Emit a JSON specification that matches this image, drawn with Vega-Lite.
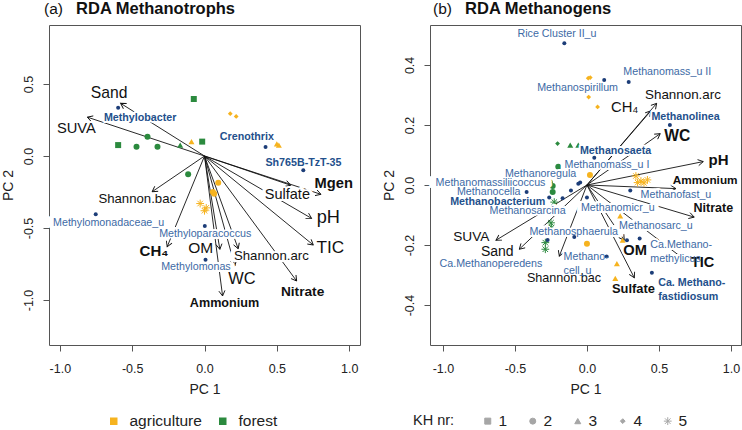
{
"$schema": "https://vega.github.io/schema/vega-lite/v6.json",
"background": "white",
"padding": {"left": 1, "top": 0, "right": 0, "bottom": 0},
"spacing": 21,
"datasets": {
"L_env": [
{"name":"Sand","x":-0.58,"y":0.366},{"name":"SUVA","x":-0.81,"y":0.27},{"name":"Shannon.bac","x":-0.362,"y":-0.248},{"name":"CH4","x":-0.258,"y":-0.63},{"name":"OM","x":0.106,"y":-0.648},{"name":"Ammonium","x":0.125,"y":-0.972},{"name":"WC","x":0.21,"y":-0.764},{"name":"Shannon.arc","x":0.233,"y":-0.644},{"name":"Nitrate","x":0.637,"y":-0.868},{"name":"TIC","x":0.752,"y":-0.618},{"name":"pH","x":0.74,"y":-0.433},{"name":"Sulfate","x":0.596,"y":-0.203},{"name":"Mgen","x":0.805,"y":-0.266}],
"L_envlab": [
{"label":"Sand","x":-0.66,"y":0.44,"sig":false,"imp":4.7},{"label":"SUVA","x":-0.886,"y":0.19,"sig":false,"imp":3.7},{"label":"Shannon.bac","x":-0.465,"y":-0.301,"sig":false,"imp":2.2},{"label":"CH₄","x":-0.349,"y":-0.66,"sig":true,"imp":4},{"label":"OM","x":-0.026,"y":-0.641,"sig":false,"imp":4.5},{"label":"Ammonium","x":0.138,"y":-1.023,"sig":true,"imp":1.6},{"label":"WC","x":0.258,"y":-0.856,"sig":false,"imp":5.4},{"label":"Shannon.arc","x":0.462,"y":-0.694,"sig":false,"imp":2.2},{"label":"Nitrate","x":0.678,"y":-0.942,"sig":true,"imp":2.7},{"label":"TIC","x":0.87,"y":-0.637,"sig":false,"imp":6.2},{"label":"pH","x":0.856,"y":-0.433,"sig":false,"imp":7.2},{"label":"Sulfate","x":0.573,"y":-0.27,"sig":false,"imp":3.5},{"label":"Mgen","x":0.893,"y":-0.197,"sig":true,"imp":3.7}],
"L_spp": [
{"name":"Methylobacter","x":-0.597,"y":0.336},{"name":"Crenothrix","x":0.422,"y":0.0625},{"name":"Sh765B-TzT-35","x":0.683,"y":-0.099},{"name":"Methylomonadaceae_u","x":-0.752,"y":-0.405},{"name":"Methyloparacoccus","x":0.002,"y":-0.486},{"name":"Methylomonas","x":0.007,"y":-0.72}],
"L_spplab": [
{"label":"Methylobacter","x":-0.445,"y":0.266,"sig":true},{"label":"Crenothrix","x":0.293,"y":0.134,"sig":true},{"label":"Sh765B-TzT-35","x":0.684,"y":-0.051,"sig":true},{"label":"Methylomonadaceae_u","x":-0.663,"y":-0.463,"sig":false},{"label":"Methyloparacoccus","x":0.005,"y":-0.539,"sig":false},{"label":"Methylomonas","x":-0.059,"y":-0.771,"sig":false}],
"L_sites": [
{"land":"forest","kh":"1","x":-0.074,"y":0.396},{"land":"forest","kh":"1","x":-0.597,"y":0.076},{"land":"forest","kh":"1","x":-0.016,"y":0.1},{"land":"forest","kh":"2","x":-0.394,"y":0.134},{"land":"forest","kh":"2","x":-0.47,"y":0.065},{"land":"forest","kh":"2","x":-0.325,"y":0.065},{"land":"forest","kh":"2","x":-0.113,"y":-0.127},{"land":"forest","kh":"3","x":-0.168,"y":0.076},{"land":"agriculture","kh":"3","x":-0.09,"y":0.1},{"land":"agriculture","kh":"3","x":0.5,"y":0.085},{"land":"agriculture","kh":"3","x":0.514,"y":0.076},{"land":"agriculture","kh":"4","x":0.178,"y":0.294},{"land":"agriculture","kh":"4","x":0.219,"y":0.275},{"land":"agriculture","kh":"2","x":0.095,"y":-0.185},{"land":"agriculture","kh":"2","x":0.067,"y":-0.262},{"land":"agriculture","kh":"2","x":0.058,"y":-0.25},{"land":"agriculture","kh":"5","x":-0.03,"y":-0.33},{"land":"agriculture","kh":"5","x":0.0,"y":-0.38},{"land":"agriculture","kh":"5","x":0.012,"y":-0.36}],
"R_env": [
{"name":"Shannon.arc","x":0.484,"y":0.272},{"name":"CH4","x":0.444,"y":0.247},{"name":"WC","x":0.509,"y":0.171},{"name":"pH","x":0.808,"y":0.078},{"name":"Ammonium","x":0.618,"y":-0.012},{"name":"Nitrate","x":0.745,"y":-0.107},{"name":"TIC","x":0.676,"y":-0.248},{"name":"OM","x":0.259,"y":-0.184},{"name":"Sulfate","x":0.329,"y":-0.309},{"name":"Shannon.bac","x":-0.192,"y":-0.237},{"name":"Sand","x":-0.47,"y":-0.214},{"name":"SUVA","x":-0.632,"y":-0.184}],
"R_envlab": [
{"label":"Shannon.arc","x":0.667,"y":0.3,"sig":false,"imp":2.4},{"label":"CH₄","x":0.262,"y":0.256,"sig":false,"imp":3.8},{"label":"WC","x":0.627,"y":0.163,"sig":true,"imp":4.6},{"label":"pH","x":0.914,"y":0.082,"sig":true,"imp":4},{"label":"Ammonium","x":0.821,"y":0.017,"sig":true,"imp":0.8},{"label":"Nitrate","x":0.878,"y":-0.078,"sig":true,"imp":1.5},{"label":"TIC","x":0.803,"y":-0.259,"sig":true,"imp":3.5},{"label":"OM","x":0.335,"y":-0.22,"sig":true,"imp":3.7},{"label":"Sulfate","x":0.323,"y":-0.348,"sig":true,"imp":1.9},{"label":"Shannon.bac","x":-0.159,"y":-0.311,"sig":false,"imp":1.6},{"label":"Sand","x":-0.623,"y":-0.223,"sig":false,"imp":3},{"label":"SUVA","x":-0.803,"y":-0.173,"sig":false,"imp":2.7}],
"R_spp": [
{"name":"Rice Cluster II_u","x":-0.157,"y":0.472},{"name":"Methanomass_u II","x":0.29,"y":0.343},{"name":"Methanospirillum","x":0.12,"y":0.35},{"name":"Methanolinea","x":0.576,"y":0.2},{"name":"Methanosaeta","x":0.051,"y":0.091},{"name":"Methanomass_u I","x":-0.047,"y":0.008},{"name":"Methanoregula","x":-0.06,"y":0.004},{"name":"Methanomassiliicoccus","x":-0.111,"y":-0.018},{"name":"Methanocella","x":-0.419,"y":-0.023},{"name":"Methanobacterium","x":-0.262,"y":-0.042},{"name":"Methanosarcina","x":-0.169,"y":-0.044},{"name":"Methanofast_u","x":0.301,"y":-0.018},{"name":"Methanomicr_u","x":0.0,"y":-0.042},{"name":"Methanosarc_u","x":0.278,"y":-0.184},{"name":"Ca.Methanomethylicus","x":0.366,"y":-0.178},{"name":"Methanosphaerula","x":-0.088,"y":-0.173},{"name":"Methanocell_u","x":0.137,"y":-0.238},{"name":"Ca.Methanoperedens","x":-0.273,"y":-0.183},{"name":"Ca.Methanofastidiosum","x":0.451,"y":-0.292}],
"R_spplab": [
{"label":"Rice Cluster II_u","x":-0.208,"y":0.502,"sig":false},{"label":"Methanomass_u II","x":0.558,"y":0.378,"sig":false},{"label":"Methanospirillum","x":-0.065,"y":0.322,"sig":false},{"label":"Methanolinea","x":0.685,"y":0.227,"sig":true},{"label":"Methanosaeta","x":0.199,"y":0.113,"sig":true},{"label":"Methanomass_u I","x":0.139,"y":0.066,"sig":false},{"label":"Methanoregula","x":-0.322,"y":0.038,"sig":false},{"label":"Methanomassiliicoccus","x":-0.67,"y":0.008,"sig":false},{"label":"Methanocella","x":-0.682,"y":-0.022,"sig":false},{"label":"Methanobacterium","x":-0.62,"y":-0.057,"sig":true},{"label":"Methanosarcina","x":-0.412,"y":-0.087,"sig":false},{"label":"Methanofast_u","x":0.618,"y":-0.034,"sig":false},{"label":"Methanomicr_u","x":0.214,"y":-0.076,"sig":false},{"label":"Methanosarc_u","x":0.479,"y":-0.137,"sig":false},{"label":"Ca.Methano-\nmethylicus","x":0.44,"y":-0.2,"sig":false},{"label":"Methanosphaerula","x":-0.092,"y":-0.156,"sig":false},{"label":"Methano-\ncell_u","x":-0.162,"y":-0.241,"sig":false},{"label":"Ca.Methanoperedens","x":-0.667,"y":-0.262,"sig":false},{"label":"Ca. Methano-\nfastidiosum","x":0.495,"y":-0.328,"sig":true}],
"R_sites": [
{"land":"forest","kh":"4","x":-0.204,"y":0.138},{"land":"forest","kh":"3","x":-0.116,"y":0.133},{"land":"forest","kh":"3","x":-0.06,"y":0.133},{"land":"forest","kh":"2","x":-0.199,"y":0.061},{"land":"forest","kh":"2","x":-0.257,"y":0.008},{"land":"forest","kh":"2","x":-0.238,"y":-0.003},{"land":"forest","kh":"2","x":-0.238,"y":-0.023},{"land":"forest","kh":"5","x":-0.227,"y":-0.057},{"land":"forest","kh":"5","x":-0.25,"y":-0.126},{"land":"forest","kh":"5","x":-0.245,"y":-0.142},{"land":"forest","kh":"5","x":-0.289,"y":-0.192},{"land":"forest","kh":"5","x":-0.289,"y":-0.214},{"land":"agriculture","kh":"4","x":0.009,"y":0.356},{"land":"agriculture","kh":"4","x":0.023,"y":0.358},{"land":"agriculture","kh":"4","x":0.012,"y":0.293},{"land":"agriculture","kh":"4","x":0.074,"y":0.26},{"land":"agriculture","kh":"2","x":0.021,"y":0.033},{"land":"agriculture","kh":"2","x":0.0,"y":-0.196},{"land":"agriculture","kh":"5","x":0.34,"y":0.03},{"land":"agriculture","kh":"5","x":0.375,"y":0.013},{"land":"agriculture","kh":"5","x":0.42,"y":0.017},{"land":"agriculture","kh":"5","x":0.352,"y":0.008},{"land":"agriculture","kh":"5","x":0.396,"y":0.007},{"land":"agriculture","kh":"3","x":0.231,"y":-0.103},{"land":"agriculture","kh":"3","x":0.248,"y":-0.184},{"land":"agriculture","kh":"3","x":0.208,"y":-0.262},{"land":"agriculture","kh":"3","x":0.197,"y":-0.311}]
},
"hconcat": [
{
"width": 311, "height": 320,
"title": {"text": "(a)", "subtitle": "\u200b\u00a0\u00a0\u00a0\u00a0\u00a0\u00a0\u00a0RDA Methanotrophs", "anchor": "start", "frame": "group", "dx": -5, "offset": 7, "fontSize": 15.5, "fontWeight": "normal", "subtitleFontSize": 16.5, "subtitleFontWeight": "bold", "subtitleColor": "#111", "subtitlePadding": -16, "subtitleFont": "Liberation Sans"},
"encoding": {
"x": {"field": "x", "type": "quantitative", "title": "PC 1", "scale": {"domain": [-1.075, 1.075], "nice": false, "zero": false}, "axis": {"values": [-1, -0.5, 0, 0.5, 1], "format": ".1f", "labelExpr": "replace(datum.label, '\u2212', '-')"}},
"y": {"field": "y", "type": "quantitative", "title": "PC 2", "scale": {"domain": [-1.3125, 0.91], "nice": false, "zero": false}, "axis": {"values": [-1, -0.5, 0, 0.5], "format": ".1f", "labelExpr": "replace(datum.label, '\u2212', '-')"}}
},
"layer": [
{"data": {"values": [{}]}, "mark": {"type": "rule", "stroke": "#888888", "strokeDash": [1.5, 2.5], "strokeWidth": 1}, "encoding": {"x": {"datum": 0}, "y": {"datum": -1.3125}, "y2": {"datum": 0.91}}},
{"data": {"values": [{}]}, "mark": {"type": "rule", "stroke": "#888888", "strokeDash": [1.5, 2.5], "strokeWidth": 1}, "encoding": {"y": {"datum": 0}, "x": {"datum": -1.075}, "x2": {"datum": 1.075}}},
{"data": {"name": "L_env"}, "mark": {"type": "rule", "stroke": "#111111", "strokeWidth": 0.9}, "encoding": {"x2": {"datum": 0}, "y2": {"datum": 0}}},
{"data": {"name": "L_env"}, "transform": [{"calculate": "atan2(-datum.y*144, datum.x*144.7)*180/PI", "as": "ang"}], "mark": {"type": "point", "shape": "M-1,-0.58L0,0L-1,0.58", "filled": false, "color": "#111111", "strokeWidth": 0.9, "size": 110, "opacity": 1}, "encoding": {"angle": {"field": "ang", "type": "quantitative", "scale": null}}},
{"data": {"name": "L_sites"}, "transform": [{"filter": "datum.kh != '5'"}], "mark": {"type": "point", "filled": true, "size": 36, "opacity": 1},
 "encoding": {
  "color": {"field": "land", "type": "nominal", "scale": {"domain": ["agriculture", "forest"], "range": ["#F6B31F", "#2B8A3E"]}, "legend": {"orient": "none", "legendX": 57, "legendY": 388, "direction": "horizontal", "title": null, "symbolType": "square", "symbolSize": 36, "labelFontSize": 15.5, "columnPadding": 13, "labelOffset": 8}},
  "shape": {"field": "kh", "type": "nominal", "scale": {"domain": ["1","2","3","4","5"], "range": ["square","circle","triangle-up","M0,-0.8L0.8,0L0,0.8L-0.8,0Z","M-1.3,0L1.3,0M0,-1.3L0,1.3M-0.92,-0.92L0.92,0.92M-0.92,0.92L0.92,-0.92"]}, "legend": {"orient": "none", "legendX": 364, "legendY": 388, "direction": "horizontal", "title": "KH nr:", "titleOrient": "left", "titleFontWeight": "normal", "titleFontSize": 14.5, "titlePadding": 25, "symbolSize": 36, "labelFontSize": 15.5, "columnPadding": 17, "labelOffset": 3, "symbolFillColor": "#a6a6a6", "symbolStrokeColor": "#a6a6a6", "symbolStrokeWidth": 1}}
 }},
{"data": {"name": "L_sites"}, "transform": [{"filter": "datum.kh == '5'"}], "mark": {"type": "point", "filled": false, "size": 36, "opacity": 1, "strokeWidth": 1},
 "encoding": {
  "color": {"field": "land", "type": "nominal", "scale": {"domain": ["agriculture", "forest"], "range": ["#F6B31F", "#2B8A3E"]}, "legend": {"orient": "none", "legendX": 57, "legendY": 388, "direction": "horizontal", "title": null, "symbolType": "square", "symbolSize": 36, "labelFontSize": 15.5, "columnPadding": 13, "labelOffset": 8}},
  "shape": {"field": "kh", "type": "nominal", "scale": {"domain": ["1","2","3","4","5"], "range": ["square","circle","triangle-up","M0,-0.8L0.8,0L0,0.8L-0.8,0Z","M-1.3,0L1.3,0M0,-1.3L0,1.3M-0.92,-0.92L0.92,0.92M-0.92,0.92L0.92,-0.92"]}, "legend": {"orient": "none", "legendX": 364, "legendY": 388, "direction": "horizontal", "title": "KH nr:", "titleOrient": "left", "titleFontWeight": "normal", "titleFontSize": 14.5, "titlePadding": 25, "symbolSize": 36, "labelFontSize": 15.5, "columnPadding": 17, "labelOffset": 3, "symbolFillColor": "#a6a6a6", "symbolStrokeColor": "#a6a6a6", "symbolStrokeWidth": 1}}
 }},
{"data": {"name": "L_envlab"}, "mark": {"type": "text", "fill": "white", "stroke": "white", "strokeWidth": 4, "strokeJoin": "round", "fontWeight": "bold", "align": "center", "baseline": "middle"}, "encoding": {"text": {"field": "label", "type": "nominal"}, "size": {"field": "imp", "type": "quantitative", "scale": {"domain": [0, 8], "range": [11, 19]}, "legend": null}}},
{"data": {"name": "L_spplab"}, "mark": {"type": "text", "fill": "white", "stroke": "white", "strokeWidth": 4, "strokeJoin": "round", "fontWeight": "bold", "fontSize": 10.7, "align": "center", "baseline": "middle"}, "encoding": {"text": {"field": "label", "type": "nominal"}}},
{"data": {"name": "L_spp"}, "mark": {"type": "point", "filled": true, "size": 16, "color": "#1c3d78", "opacity": 1}},
{"data": {"name": "L_envlab"}, "transform": [{"filter": "!datum.sig"}], "mark": {"type": "text", "fill": "#111111", "align": "center", "baseline": "middle"}, "encoding": {"text": {"field": "label", "type": "nominal"}, "size": {"field": "imp", "type": "quantitative", "scale": {"domain": [0, 8], "range": [11, 19]}, "legend": null}}},
{"data": {"name": "L_envlab"}, "transform": [{"filter": "datum.sig"}], "mark": {"type": "text", "fill": "#111111", "fontWeight": "bold", "align": "center", "baseline": "middle"}, "encoding": {"text": {"field": "label", "type": "nominal"}, "size": {"field": "imp", "type": "quantitative", "scale": {"domain": [0, 8], "range": [11, 19]}, "legend": null}}},
{"data": {"name": "L_spplab"}, "transform": [{"filter": "!datum.sig"}], "mark": {"type": "text", "fill": "#3d6aa5", "fontSize": 10.7, "align": "center", "baseline": "middle"}, "encoding": {"text": {"field": "label", "type": "nominal"}}},
{"data": {"name": "L_spplab"}, "transform": [{"filter": "datum.sig"}], "mark": {"type": "text", "fill": "#23508c", "fontSize": 10.7, "fontWeight": "bold", "align": "center", "baseline": "middle"}, "encoding": {"text": {"field": "label", "type": "nominal"}}}
]
},
{
"width": 311, "height": 320,
"title": {"text": "(b)", "subtitle": "\u200b\u00a0\u00a0\u00a0\u00a0\u00a0\u00a0\u00a0RDA Methanogens", "anchor": "start", "frame": "group", "dx": 3, "offset": 7, "fontSize": 15.5, "fontWeight": "normal", "subtitleFontSize": 16.5, "subtitleFontWeight": "bold", "subtitleColor": "#111", "subtitlePadding": -16, "subtitleFont": "Liberation Sans"},
"encoding": {
"x": {"field": "x", "type": "quantitative", "title": "PC 1", "scale": {"domain": [-1.09, 1.07], "nice": false, "zero": false}, "axis": {"values": [-1, -0.5, 0, 0.5, 1], "format": ".1f", "labelExpr": "replace(datum.label, '\u2212', '-')"}},
"y": {"field": "y", "type": "quantitative", "title": "PC 2", "scale": {"domain": [-0.533, 0.533], "nice": false, "zero": false}, "axis": {"values": [-0.4, -0.2, 0, 0.2, 0.4], "format": ".1f", "labelExpr": "replace(datum.label, '\u2212', '-')"}}
},
"layer": [
{"data": {"values": [{}]}, "mark": {"type": "rule", "stroke": "#888888", "strokeDash": [1.5, 2.5], "strokeWidth": 1}, "encoding": {"x": {"datum": 0}, "y": {"datum": -0.533}, "y2": {"datum": 0.533}}},
{"data": {"values": [{}]}, "mark": {"type": "rule", "stroke": "#888888", "strokeDash": [1.5, 2.5], "strokeWidth": 1}, "encoding": {"y": {"datum": 0}, "x": {"datum": -1.09}, "x2": {"datum": 1.07}}},
{"data": {"name": "R_env"}, "mark": {"type": "rule", "stroke": "#111111", "strokeWidth": 0.9}, "encoding": {"x2": {"datum": 0}, "y2": {"datum": 0}}},
{"data": {"name": "R_env"}, "transform": [{"calculate": "atan2(-datum.y*300, datum.x*144)*180/PI", "as": "ang"}], "mark": {"type": "point", "shape": "M-1,-0.58L0,0L-1,0.58", "filled": false, "color": "#111111", "strokeWidth": 0.9, "size": 110, "opacity": 1}, "encoding": {"angle": {"field": "ang", "type": "quantitative", "scale": null}}},
{"data": {"name": "R_sites"}, "transform": [{"filter": "datum.kh != '5'"}], "mark": {"type": "point", "filled": true, "size": 36, "opacity": 1},
 "encoding": {
  "color": {"field": "land", "type": "nominal", "scale": {"domain": ["agriculture", "forest"], "range": ["#F6B31F", "#2B8A3E"]}, "legend": {"orient": "none", "legendX": 57, "legendY": 388, "direction": "horizontal", "title": null, "symbolType": "square", "symbolSize": 36, "labelFontSize": 15.5, "columnPadding": 13, "labelOffset": 8}},
  "shape": {"field": "kh", "type": "nominal", "scale": {"domain": ["1","2","3","4","5"], "range": ["square","circle","triangle-up","M0,-0.8L0.8,0L0,0.8L-0.8,0Z","M-1.3,0L1.3,0M0,-1.3L0,1.3M-0.92,-0.92L0.92,0.92M-0.92,0.92L0.92,-0.92"]}, "legend": {"orient": "none", "legendX": 364, "legendY": 388, "direction": "horizontal", "title": "KH nr:", "titleOrient": "left", "titleFontWeight": "normal", "titleFontSize": 14.5, "titlePadding": 25, "symbolSize": 36, "labelFontSize": 15.5, "columnPadding": 17, "labelOffset": 3, "symbolFillColor": "#a6a6a6", "symbolStrokeColor": "#a6a6a6", "symbolStrokeWidth": 1}}
 }},
{"data": {"name": "R_sites"}, "transform": [{"filter": "datum.kh == '5'"}], "mark": {"type": "point", "filled": false, "size": 36, "opacity": 1, "strokeWidth": 1},
 "encoding": {
  "color": {"field": "land", "type": "nominal", "scale": {"domain": ["agriculture", "forest"], "range": ["#F6B31F", "#2B8A3E"]}, "legend": {"orient": "none", "legendX": 57, "legendY": 388, "direction": "horizontal", "title": null, "symbolType": "square", "symbolSize": 36, "labelFontSize": 15.5, "columnPadding": 13, "labelOffset": 8}},
  "shape": {"field": "kh", "type": "nominal", "scale": {"domain": ["1","2","3","4","5"], "range": ["square","circle","triangle-up","M0,-0.8L0.8,0L0,0.8L-0.8,0Z","M-1.3,0L1.3,0M0,-1.3L0,1.3M-0.92,-0.92L0.92,0.92M-0.92,0.92L0.92,-0.92"]}, "legend": {"orient": "none", "legendX": 364, "legendY": 388, "direction": "horizontal", "title": "KH nr:", "titleOrient": "left", "titleFontWeight": "normal", "titleFontSize": 14.5, "titlePadding": 25, "symbolSize": 36, "labelFontSize": 15.5, "columnPadding": 17, "labelOffset": 3, "symbolFillColor": "#a6a6a6", "symbolStrokeColor": "#a6a6a6", "symbolStrokeWidth": 1}}
 }},
{"data": {"name": "R_envlab"}, "mark": {"type": "text", "fill": "white", "stroke": "white", "strokeWidth": 4, "strokeJoin": "round", "fontWeight": "bold", "align": "center", "baseline": "middle"}, "encoding": {"text": {"field": "label", "type": "nominal"}, "size": {"field": "imp", "type": "quantitative", "scale": {"domain": [0, 8], "range": [11, 19]}, "legend": null}}},
{"data": {"name": "R_spplab"}, "transform": [{"filter": "indexof(datum.label, '\\n') < 0"}], "mark": {"type": "text", "fill": "white", "stroke": "white", "strokeWidth": 4, "strokeJoin": "round", "fontWeight": "bold", "fontSize": 10.7, "align": "center", "baseline": "middle"}, "encoding": {"text": {"field": "label", "type": "nominal"}}},
{"data": {"name": "R_spplab"}, "transform": [{"filter": "indexof(datum.label, '\\n') >= 0"}], "mark": {"type": "text", "fill": "white", "stroke": "white", "strokeWidth": 4, "strokeJoin": "round", "fontWeight": "bold", "fontSize": 10.7, "lineBreak": "\n", "lineHeight": 13.5, "align": "left", "baseline": "middle"}, "encoding": {"text": {"field": "label", "type": "nominal"}}},
{"data": {"name": "R_spp"}, "mark": {"type": "point", "filled": true, "size": 16, "color": "#1c3d78", "opacity": 1}},
{"data": {"name": "R_envlab"}, "transform": [{"filter": "!datum.sig"}], "mark": {"type": "text", "fill": "#111111", "align": "center", "baseline": "middle"}, "encoding": {"text": {"field": "label", "type": "nominal"}, "size": {"field": "imp", "type": "quantitative", "scale": {"domain": [0, 8], "range": [11, 19]}, "legend": null}}},
{"data": {"name": "R_envlab"}, "transform": [{"filter": "datum.sig"}], "mark": {"type": "text", "fill": "#111111", "fontWeight": "bold", "align": "center", "baseline": "middle"}, "encoding": {"text": {"field": "label", "type": "nominal"}, "size": {"field": "imp", "type": "quantitative", "scale": {"domain": [0, 8], "range": [11, 19]}, "legend": null}}},
{"data": {"name": "R_spplab"}, "transform": [{"filter": "!datum.sig && indexof(datum.label, '\\n') < 0"}], "mark": {"type": "text", "fill": "#3d6aa5", "fontSize": 10.7, "align": "center", "baseline": "middle"}, "encoding": {"text": {"field": "label", "type": "nominal"}}},
{"data": {"name": "R_spplab"}, "transform": [{"filter": "datum.sig && indexof(datum.label, '\\n') < 0"}], "mark": {"type": "text", "fill": "#23508c", "fontSize": 10.7, "fontWeight": "bold", "align": "center", "baseline": "middle"}, "encoding": {"text": {"field": "label", "type": "nominal"}}},
{"data": {"name": "R_spplab"}, "transform": [{"filter": "!datum.sig && indexof(datum.label, '\\n') >= 0"}], "mark": {"type": "text", "fill": "#3d6aa5", "fontSize": 10.7, "lineBreak": "\n", "lineHeight": 13.5, "align": "left", "baseline": "middle"}, "encoding": {"text": {"field": "label", "type": "nominal"}}},
{"data": {"name": "R_spplab"}, "transform": [{"filter": "datum.sig && indexof(datum.label, '\\n') >= 0"}], "mark": {"type": "text", "fill": "#23508c", "fontSize": 10.7, "fontWeight": "bold", "lineBreak": "\n", "lineHeight": 13.5, "align": "left", "baseline": "middle"}, "encoding": {"text": {"field": "label", "type": "nominal"}}}
]
}
],
"resolve": {"scale": {"x": "independent", "y": "independent", "color": "shared", "shape": "shared"}},
"config": {
"font": "Liberation Sans",
"view": {"stroke": "#555555", "strokeWidth": 1},
"axis": {"domain": false, "grid": false, "tickColor": "#555555", "tickSize": 6, "labelFont": "Liberation Sans", "labelFontSize": 12.5, "labelColor": "#222222", "titleFont": "Liberation Sans", "titleFontSize": 14, "titleFontWeight": "normal", "titleColor": "#222222"},
"axisX": {"labelPadding": 11, "titlePadding": 8},
"axisY": {"labelAngle": 270, "labelAlign": "center", "labelBaseline": "bottom", "labelPadding": 8, "titlePadding": 6.5},
"legend": {"labelFont": "Liberation Sans", "labelColor": "#222222", "titleFont": "Liberation Sans", "titleColor": "#222222"},
"title": {"font": "Liberation Sans", "color": "#111111"}
}
}
